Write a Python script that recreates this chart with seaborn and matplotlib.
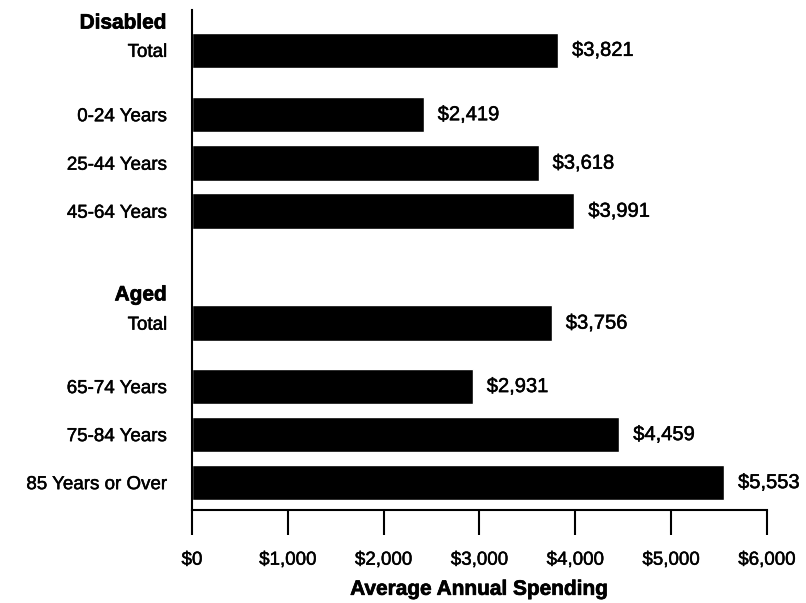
import matplotlib
matplotlib.use("Agg")
import matplotlib.pyplot as plt
import matplotlib.patheffects as pe
import seaborn as sns
import pandas as pd

# --- data ---
groups = ["Disabled", "Disabled", "Disabled", "Disabled", "Aged", "Aged", "Aged", "Aged"]
categories = ["Total", "0-24 Years", "25-44 Years", "45-64 Years",
              "Total", "65-74 Years", "75-84 Years", "85 Years or Over"]
spending = [3821, 2419, 3618, 3991, 3756, 2931, 4459, 5553]
headers = ["Disabled", "Aged"]
xtick_values = [0, 1000, 2000, 3000, 4000, 5000, 6000]
xtick_labels = ["$0", "$1,000", "$2,000", "$3,000", "$4,000", "$5,000", "$6,000"]

# layout: vertical slots of the rows (groups have uneven gaps)
row_pos = [0, 1.34, 2.35, 3.35, 5.68, 7.0, 8.0, 9.0]
header_pos = [-0.61, 5.05]

df = pd.DataFrame({"group": groups, "category": categories,
                   "spending": spending, "pos": row_pos})

sns.set_theme(style="ticks")
plt.rcParams['font.family'] = ['Liberation Sans', 'DejaVu Sans']
plt.rcParams['text.color'] = 'black'
plt.rcParams['axes.labelcolor'] = 'black'

# the printed figure uses a heavy Helvetica, thicken text a little
medium = [pe.withStroke(linewidth=0.35, foreground="black")]
heavy = [pe.withStroke(linewidth=0.5, foreground="black")]

fig = plt.figure(figsize=(8.06, 6.03), dpi=100)
ax = fig.add_axes([0.2382, 0.1542, 0.7134, 0.8292])

sns.barplot(data=df, x="spending", y="pos", orient="h", native_scale=True,
            color="black", saturation=1, width=0.74, errorbar=None, ax=ax)

# value labels at bar ends
for t in ax.bar_label(ax.containers[0], labels=[f"${v:,}" for v in spending],
                      padding=10, fontsize=14.5, color="black"):
    t.set_path_effects(medium)

# row labels + group headers
ax.set_yticks(row_pos + header_pos)
ax.set_yticklabels(categories + headers, fontsize=13.5)
for lbl in ax.get_yticklabels()[:len(categories)]:
    lbl.set_path_effects(medium)
for lbl in ax.get_yticklabels()[len(categories):]:
    lbl.set_fontweight("bold")
    lbl.set_fontsize(15)
    lbl.set_path_effects(heavy)

ax.set_xlim(0, 6000)
ax.set_ylim(9.57, -0.84)
ax.set_xticks(xtick_values)
ax.set_xticklabels(xtick_labels, fontsize=13.5)
for lbl in ax.get_xticklabels():
    lbl.set_path_effects(medium)
ax.set_xlabel("Average Annual Spending", fontsize=15, fontweight="bold",
              labelpad=8, color="black", path_effects=heavy)
ax.set_ylabel("")

ax.tick_params(axis="x", length=18, width=1.5, pad=12, colors="black")
ax.tick_params(axis="y", length=0, pad=18, colors="black")
for side in ["top", "right"]:
    ax.spines[side].set_visible(False)
for side in ["left", "bottom"]:
    ax.spines[side].set_linewidth(1.5)
    ax.spines[side].set_color("black")

fig.savefig("out.png", dpi=100)
